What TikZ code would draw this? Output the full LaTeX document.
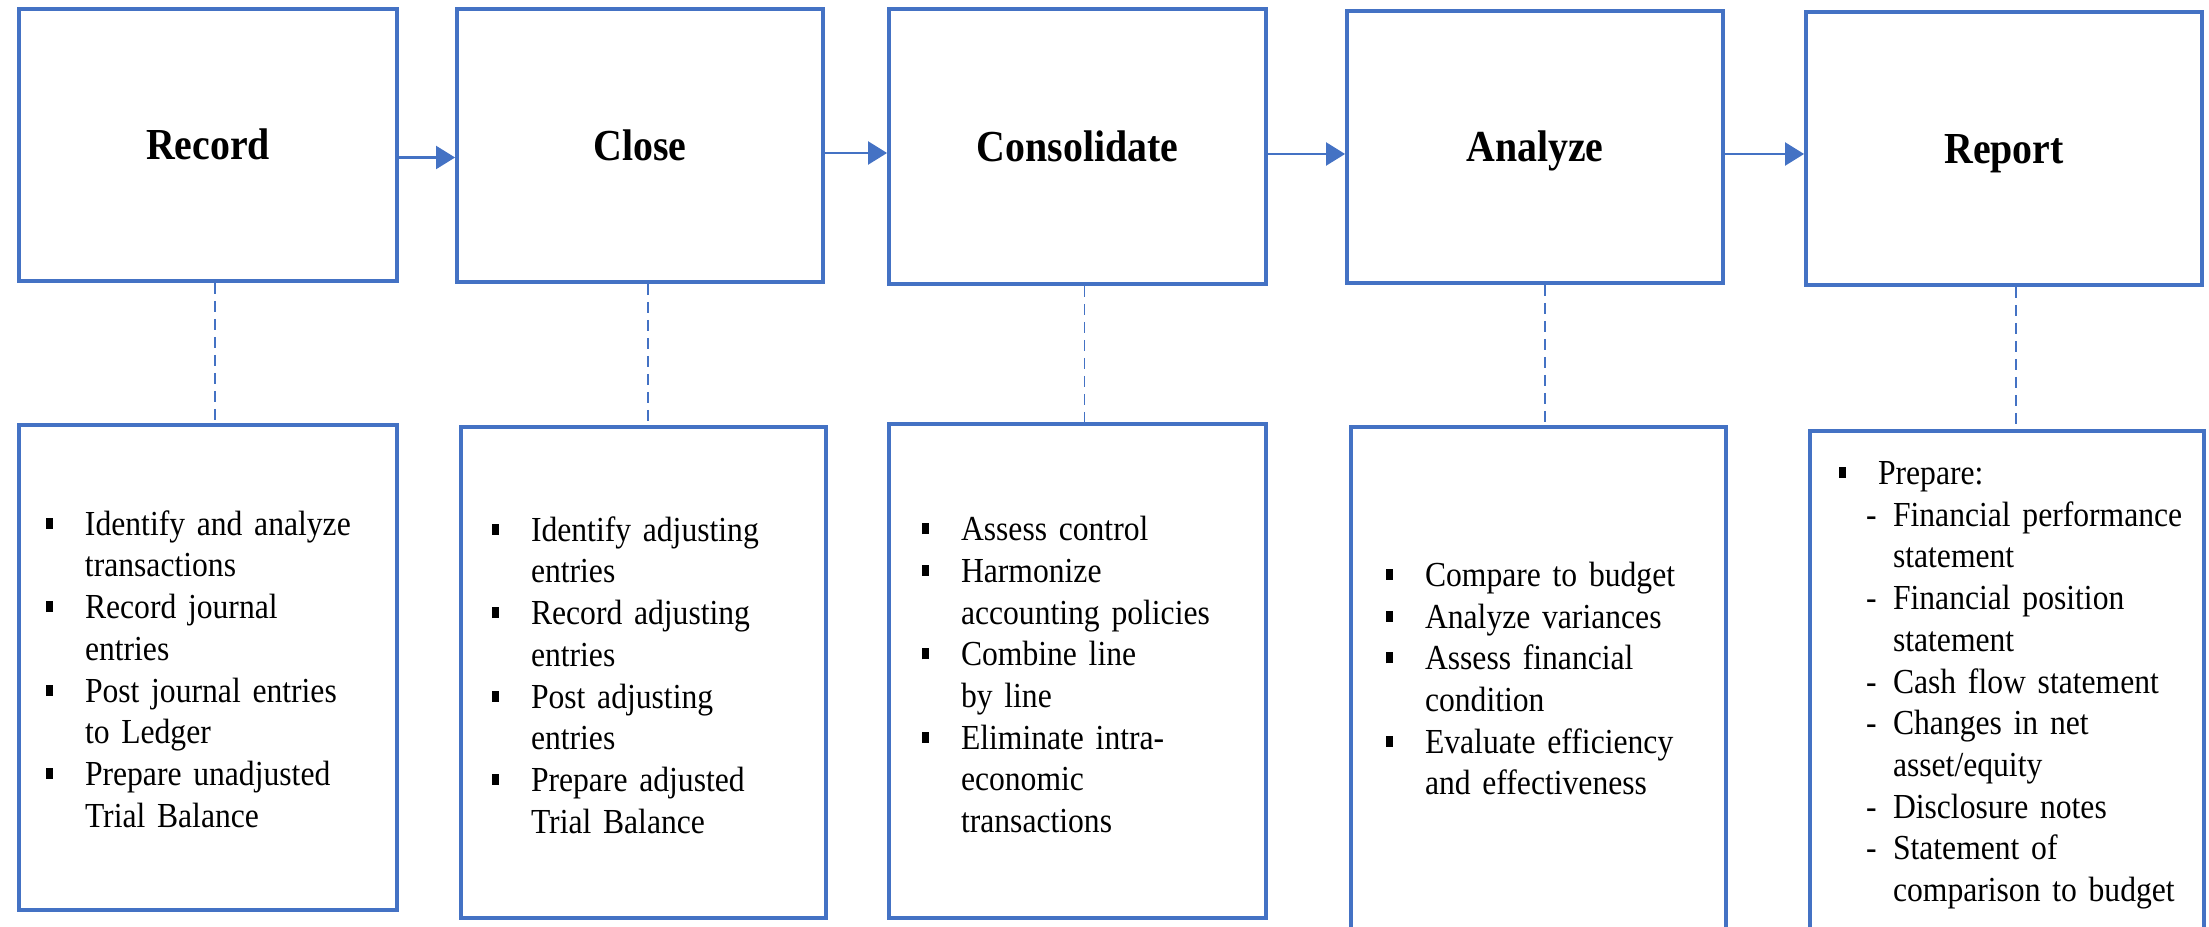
\documentclass[tikz,border=0pt]{standalone}
\usepackage{fontspec}
\setmainfont{Liberation Serif}[FakeStretch=0.9]
\usetikzlibrary{arrows.meta}
\definecolor{stageblue}{HTML}{4472C4}

\newcommand{\sqbul}{\rule[0.065cm]{0.07cm}{0.11cm}}
\newcommand{\sqitem}{\par\noindent\hangindent=0.39cm\hangafter=1\makebox[0.39cm][l]{\sqbul}}
\newcommand{\dashitem}{\par\noindent\hangindent=0.54cm\hangafter=1\hspace*{0.27cm}\makebox[0.27cm][l]{-}}
\newcommand{\listend}[1]{\par\vskip#1\hrule height 0pt}

\begin{document}
\begin{tikzpicture}[
	stage/.style={draw=stageblue, line width=1.1pt, text height=0.3cm, text depth=0pt, font=\fontsize{12.6}{15}\selectfont\bfseries},
	tasks/.style={draw=stageblue, line width=1.1pt, align=left, font=\fontsize{10}{11.87}\selectfont},
	flow/.style={draw=stageblue, line width=0.6pt, -{Triangle[length=1.9mm,width=2.3mm]}},
	link/.style={draw=stageblue, line width=0.5pt, dash pattern=on 1.1mm off 0.7mm}]
	\useasboundingbox (0,0) rectangle (22.09,-9.27);
	%stage boxes
	\node[stage, minimum width=3.78cm, minimum height=2.72cm] (rec) at (2.08,-1.45) {Record};
	\node[stage, minimum width=3.66cm, minimum height=2.73cm] (cls) at (6.40,-1.455) {Close};
	\node[stage, minimum width=3.77cm, minimum height=2.75cm] (con) at (10.775,-1.465) {Consolidate};
	\node[stage, minimum width=3.76cm, minimum height=2.72cm] (ana) at (15.35,-1.47) {Analyze};
	\node[stage, minimum width=3.96cm, minimum height=2.73cm] (rep) at (20.04,-1.485) {Report};
	%arrows
	\draw[flow] ([yshift=-0.125cm]rec.east) -- ([yshift=-0.125cm]rec.east -| cls.west);
	\draw[flow] ([yshift=-0.075cm]cls.east) -- ([yshift=-0.075cm]cls.east -| con.west);
	\draw[flow] ([yshift=-0.075cm]con.east) -- ([yshift=-0.075cm]con.east -| ana.west);
	\draw[flow] ([yshift=-0.07cm]ana.east) -- ([yshift=-0.07cm]ana.east -| rep.west);
	%task lists
	\node[tasks, minimum width=3.78cm, minimum height=4.85cm, text width=3.24cm] (recL) at (2.08,-6.675) {
		\sqitem Identify and analyze\newline transactions
		\sqitem Record journal\newline entries
		\sqitem Post journal entries\newline to Ledger
		\sqitem Prepare unadjusted\newline Trial Balance\listend{0.14cm}};
	\node[tasks, minimum width=3.65cm, minimum height=4.91cm, text width=3.03cm] (clsL) at (6.435,-6.725) {
		\sqitem Identify adjusting\newline entries
		\sqitem Record adjusting\newline entries
		\sqitem Post adjusting\newline entries
		\sqitem Prepare adjusted\newline Trial Balance\listend{0.12cm}};
	\node[tasks, minimum width=3.77cm, minimum height=4.94cm, text width=3.11cm] (conL) at (10.775,-6.71) {
		\sqitem Assess control
		\sqitem Harmonize\newline accounting policies
		\sqitem Combine line\newline by line
		\sqitem Eliminate intra-\newline economic\newline transactions\listend{0.1cm}};
	\node[tasks, minimum width=3.75cm, minimum height=5.08cm, text width=3.05cm] (anaL) at (15.385,-6.81) {
		\sqitem Compare to budget
		\sqitem Analyze variances
		\sqitem Assess financial\newline condition
		\sqitem Evaluate efficiency\newline and effectiveness\listend{0.22cm}};
	\node[tasks, minimum width=3.94cm, minimum height=5.04cm, text width=3.36cm] (repL) at (20.07,-6.83) {
		\sqitem Prepare:
		\dashitem \mbox{Financial performance}\newline statement
		\dashitem Financial position\newline statement
		\dashitem Cash flow statement
		\dashitem Changes in net\newline asset/equity
		\dashitem Disclosure notes
		\dashitem Statement of\newline comparison to budget\listend{0.14cm}};
	%dashed links
	\draw[link] ([xshift=0.07cm]rec.south) -- ([xshift=0.07cm]rec.south |- recL.north);
	\draw[link] ([xshift=0.08cm]cls.south) -- ([xshift=0.08cm]cls.south |- clsL.north);
	\draw[link] ([xshift=0.07cm]con.south) -- ([xshift=0.07cm]con.south |- conL.north);
	\draw[link] ([xshift=0.1cm]ana.south) -- ([xshift=0.1cm]ana.south |- anaL.north);
	\draw[link] ([xshift=0.12cm]rep.south) -- ([xshift=0.12cm]rep.south |- repL.north);
\end{tikzpicture}
\end{document}
